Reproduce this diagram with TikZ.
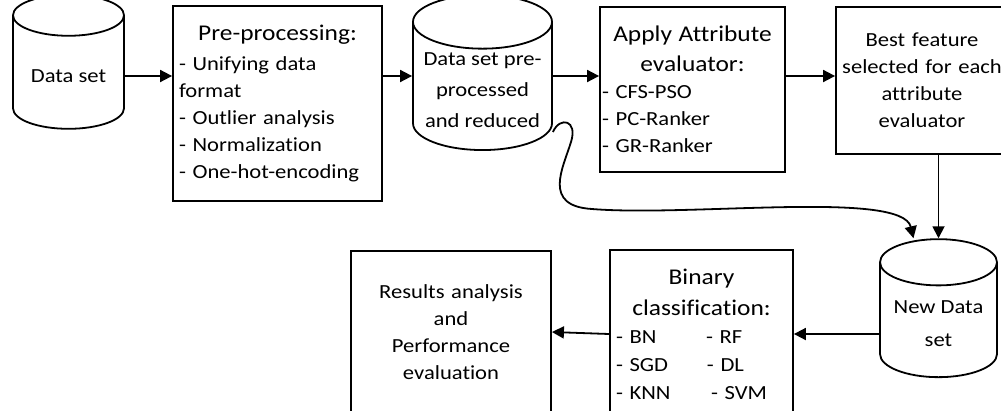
\documentclass[tikz,border=0pt]{standalone}
\usepackage{fontspec}
\setmainfont{Carlito}[FakeStretch=1.13, Ligatures=NoCommon]
\usetikzlibrary{shapes.geometric,arrows.meta}
\newcommand\hdr{\fontsize{22.5}{28}\selectfont}
\tikzset{
  box/.style={draw, line width=1.8pt, inner xsep=6pt, font=\fontsize{20}{27}\selectfont},
  dbase/.style={draw, line width=1.8pt, cylinder, shape border rotate=90, align=center, font=\fontsize{20}{31}\selectfont},
  arr/.style={line width=1.8pt, -{Triangle[length=12pt,width=12pt]}}
}
\begin{document}
\begin{tikzpicture}[x=1pt,y=-1pt]
\useasboundingbox (0,0) rectangle (1001,410);
% data stores
\node[dbase, minimum width=111pt, minimum height=134pt, aspect=0.5] (raw) at (68.5,76) {Data set};
\node[dbase, minimum width=139pt, minimum height=155pt, aspect=0.43] (clean) at (482.5,90.5) {Data set pre-\\processed\\and reduced};
\node[dbase, minimum width=117pt, minimum height=138pt, aspect=0.48, font=\fontsize{20}{33}\selectfont] (newdata) at (938.5,324) {New Data\\set};
% steps
\node[box, text width=197pt, align=left, minimum height=195pt] (prep) at (277.5,103.5)
  {\makebox[\linewidth]{\hdr Pre-processing:}\\[3pt]- Unifying data\\format\\- Outlier analysis\\- Normalization\\- One-hot-encoding};
\node[box, inner xsep=2pt, text width=181pt, align=left, minimum height=165pt] (apply) at (692.5,89.5)
  {\makebox[\linewidth]{\hdr Apply Attribute}\\[3pt]\makebox[\linewidth]{\hdr evaluator:}\\- CFS-PSO\\- PC-Ranker\\- GR-Ranker};
\node[box, text width=160pt, align=center, minimum height=147pt] (best) at (922,80.5)
  {Best feature\\selected for each\\attribute\\evaluator};
\node[box, text width=171pt, align=left, minimum height=168pt, font=\fontsize{20}{28}\selectfont] (binary) at (701.5,334)
  {\makebox[\linewidth]{\hdr Binary}\\[3pt]\makebox[\linewidth]{\hdr classification:}\\
   \makebox[90pt][l]{- BN}- RF\\\makebox[91pt][l]{- SGD}- DL\\\makebox[95pt][l]{- KNN}- SVM};
\node[box, text width=188pt, align=center, minimum height=162pt] (results) at (451,332)
  {Results analysis\\and\\Performance\\evaluation};
% flow
\draw[arr] (raw.east) -- (raw.east -| prep.west);
\draw[arr] (prep.east |- raw.east) -- (clean.west |- raw.east);
\draw[arr] (clean.east |- raw.east) -- (apply.west |- raw.east);
\draw[arr] (apply.east |- raw.east) -- (best.west |- raw.east);
\draw[arr] (newdata.north |- best.south) -- (newdata.north);
\draw[arr] ([yshift=-41.5pt]clean.east) .. controls (560,116) and (578,120) .. (571,142)
  .. controls (563,168) and (542,206) .. (592,209)
  .. controls (690,217) and (902,190) .. ([xshift=-25pt]newdata.north);
\draw[arr] (newdata.west |- binary.east) -- (binary.east);
\draw[arr] (binary.west) -- (results.east);
\end{tikzpicture}
\end{document}
